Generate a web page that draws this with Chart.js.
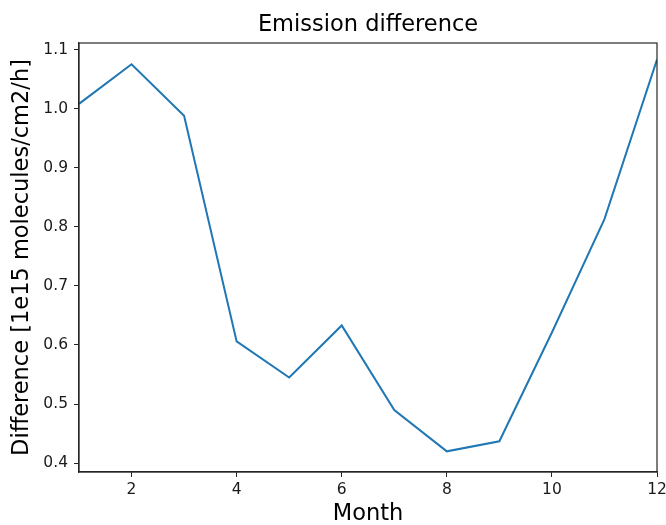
<!DOCTYPE html>
<html>
<head>
<meta charset="utf-8">
<script src="https://cdn.jsdelivr.net/npm/chart.js@4"></script>
<style>
  html, body { margin: 0; padding: 0; background: #fff; }
  #wrap { width: 666px; height: 525px; }
</style>
</head>
<body>
<div id="wrap"><canvas id="grafico"></canvas></div>
<script>
// values
const months = [1, 2, 3, 4, 5, 6, 7, 8, 9, 10, 11, 12];
const difference = [1.008, 1.075, 0.988, 0.606, 0.545, 0.633, 0.490, 0.420, 0.437, 0.621, 0.813, 1.083];
const xTicks = [2, 4, 6, 8, 10, 12];
const yTicks = [0.4, 0.5, 0.6, 0.7, 0.8, 0.9, 1.0, 1.1];

const FONT = "'DejaVu Sans', sans-serif";

// matplotlib style frame round the plot
const frame = {
  id: "frame",
  afterDraw(chart) {
    const a = chart.chartArea;
    const ctx = chart.ctx;
    ctx.save();
    ctx.strokeStyle = "#262626";
    ctx.lineWidth = 1.2;
    ctx.strokeRect(a.left, a.top, a.right - a.left, a.bottom - a.top);
    ctx.restore();
  }
};

const punkte = months.map((m, i) => ({ x: m, y: difference[i] }));

new Chart(document.getElementById("grafico"), {
  type: "line",
  data: {
    datasets: [{
      data: punkte,
      borderColor: "#1f77b4",
      borderWidth: 2,
      pointRadius: 0,
      tension: 0,
      fill: false
    }]
  },
  options: {
    responsive: true,
    maintainAspectRatio: false,
    animation: false,
    layout: { padding: { left: 0, right: 0, top: 0, bottom: 0 } },
    plugins: {
      legend: { display: false },
      tooltip: { enabled: false },
      title: {
        display: true,
        text: "Emission difference",
        color: "#000",
        fullSize: false,
        font: { family: FONT, size: 22.5, weight: "normal", lineHeight: 1.2 },
        padding: { top: 12, bottom: 4 }
      }
    },
    scales: {
      x: {
        type: "linear",
        min: 1,
        max: 12,
        afterBuildTicks: (s) => { s.ticks = xTicks.map(v => ({ value: v })); },
        afterFit: (s) => { s.height = 53; s.paddingRight = 9; s.paddingLeft = 0; },
        grid: { drawOnChartArea: false, drawTicks: true, tickLength: 5, color: "#262626" },
        border: { display: true, color: "#262626", width: 1.2 },
        ticks: {
          color: "#1a1a1a",
          padding: 4,
          font: { family: FONT, size: 15.5 },
          maxRotation: 0,
          callback: (v) => v
        },
        title: {
          display: true,
          text: "Month",
          color: "#000",
          font: { family: FONT, size: 22.5, lineHeight: 1.0 },
          padding: { top: 0, bottom: 0 }
        }
      },
      y: {
        type: "linear",
        min: 0.385,
        max: 1.111,
        afterBuildTicks: (s) => { s.ticks = yTicks.map(v => ({ value: v })); },
        afterFit: (s) => { s.width = 79; },
        grid: { drawOnChartArea: false, drawTicks: true, tickLength: 5, color: "#262626" },
        border: { display: true, color: "#262626", width: 1.2 },
        ticks: {
          color: "#1a1a1a",
          padding: 6,
          font: { family: FONT, size: 15.5 },
          callback: (v) => v.toFixed(1)
        },
        title: {
          display: true,
          text: "Difference [1e15 molecules/cm2/h]",
          color: "#000",
          font: { family: FONT, size: 22.5, lineHeight: 1.0 },
          padding: { top: 11, bottom: 0 }
        }
      }
    }
  },
  plugins: [frame]
});
</script>
</body>
</html>
